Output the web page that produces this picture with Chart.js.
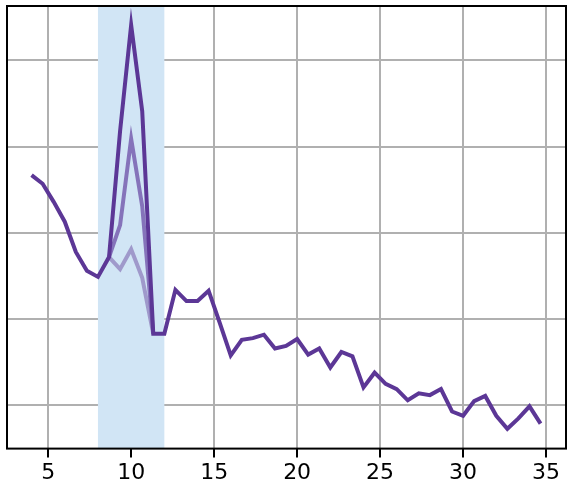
<!DOCTYPE html>
<html>
<head>
<meta charset="utf-8">
<script src="https://cdn.jsdelivr.net/npm/chart.js@4"></script>
<style>
  html, body { margin: 0; padding: 0; background: #fff; }
  #wrap { width: 572px; height: 488px; }
</style>
</head>
<body>
<div id="wrap"><canvas id="chart" width="572" height="488"></canvas></div>
<script>
// x positions run 4, 4.67, ... 34.67 (step 2/3)
const xValues = [4, 4.667, 5.333, 6, 6.667, 7.333, 8, 8.667, 9.333, 10, 10.667, 11.333, 12, 12.667,
  13.333, 14, 14.667, 15.333, 16, 16.667, 17.333, 18, 18.667, 19.333, 20, 20.667, 21.333, 22,
  22.667, 23.333, 24, 24.667, 25.333, 26, 26.667, 27.333, 28, 28.667, 29.333, 30, 30.667,
  31.333, 32, 32.667, 33.333, 34, 34.667];
const mainValues = [3.67, 3.57, 3.36, 3.13, 2.78, 2.56, 2.49, 2.72, 4.18, 5.41, 4.41, 1.83, 1.83, 2.34,
  2.21, 2.21, 2.33, 1.96, 1.58, 1.76, 1.78, 1.82, 1.66, 1.69, 1.77, 1.59, 1.66, 1.44,
  1.62, 1.57, 1.21, 1.38, 1.25, 1.19, 1.06, 1.14, 1.12, 1.19, 0.93, 0.88, 1.05,
  1.11, 0.88, 0.73, 0.85, 0.99, 0.79];
// secondary runs only inside the shaded window (indices 7..11)
const midValues = [2.72, 3.09, 4.09, 3.31, 1.83];
const lowValues = [2.72, 2.58, 2.81, 2.48, 1.83];
const bandRange = [8, 12];
const xTicks = [5, 10, 15, 20, 25, 30, 35];
const yTicks = [1, 2, 3, 4, 5];

function pts(vals, start) {
  return vals.map((v, i) => ({ x: xValues[start + i], y: v }));
}

const bandPlugin = {
  id: 'band',
  beforeDatasetsDraw(chart) {
    const { ctx, chartArea, scales } = chart;
    const x0 = scales.x.getPixelForValue(bandRange[0]);
    const x1 = scales.x.getPixelForValue(bandRange[1]);
    ctx.save();
    ctx.fillStyle = '#d1e5f5';
    ctx.fillRect(x0, chartArea.top, x1 - x0, chartArea.bottom - chartArea.top);
    ctx.restore();
  },
  afterDraw(chart) {
    const { ctx, chartArea } = chart;
    ctx.save();
    ctx.strokeStyle = '#000';
    ctx.lineWidth = 2;
    ctx.strokeRect(chartArea.left, chartArea.top, chartArea.right - chartArea.left, chartArea.bottom - chartArea.top);
    ctx.restore();
  }
};

const common = { pointRadius: 0, borderWidth: 4, tension: 0, fill: false, borderJoinStyle: 'miter' };

new Chart(document.getElementById('chart'), {
  type: 'line',
  data: {
    datasets: [
      { ...common, data: pts(mainValues, 0), borderColor: '#5c3796', order: 1 },
      { ...common, data: pts(midValues, 7), borderColor: 'rgba(120,95,175,0.85)', order: 2 },
      { ...common, data: pts(lowValues, 7), borderColor: 'rgba(150,140,195,0.85)', order: 3 }
    ]
  },
  options: {
    responsive: false,
    animation: false,
    layout: { padding: { left: 7, right: 6, top: 6, bottom: 0 } },
    plugins: { legend: { display: false }, tooltip: { enabled: false } },
    scales: {
      x: {
        type: 'linear', min: 2.52, max: 36.2,
        afterBuildTicks: s => { s.ticks = xTicks.map(v => ({ value: v })); },
        grid: { color: '#b0b0b0', lineWidth: 2, tickLength: 9, tickColor: '#000', drawTicks: true },
        border: { display: false },
        ticks: { color: '#000', font: { family: 'DejaVu Sans', size: 22 }, padding: 2, maxRotation: 0 }
      },
      y: {
        min: 0.5, max: 5.63,
        afterBuildTicks: s => { s.ticks = yTicks.map(v => ({ value: v })); },
        grid: { color: '#b0b0b0', lineWidth: 2, drawTicks: false },
        border: { display: false },
        ticks: { display: false }
      }
    }
  },
  plugins: [bandPlugin]
});
</script>
</body>
</html>
